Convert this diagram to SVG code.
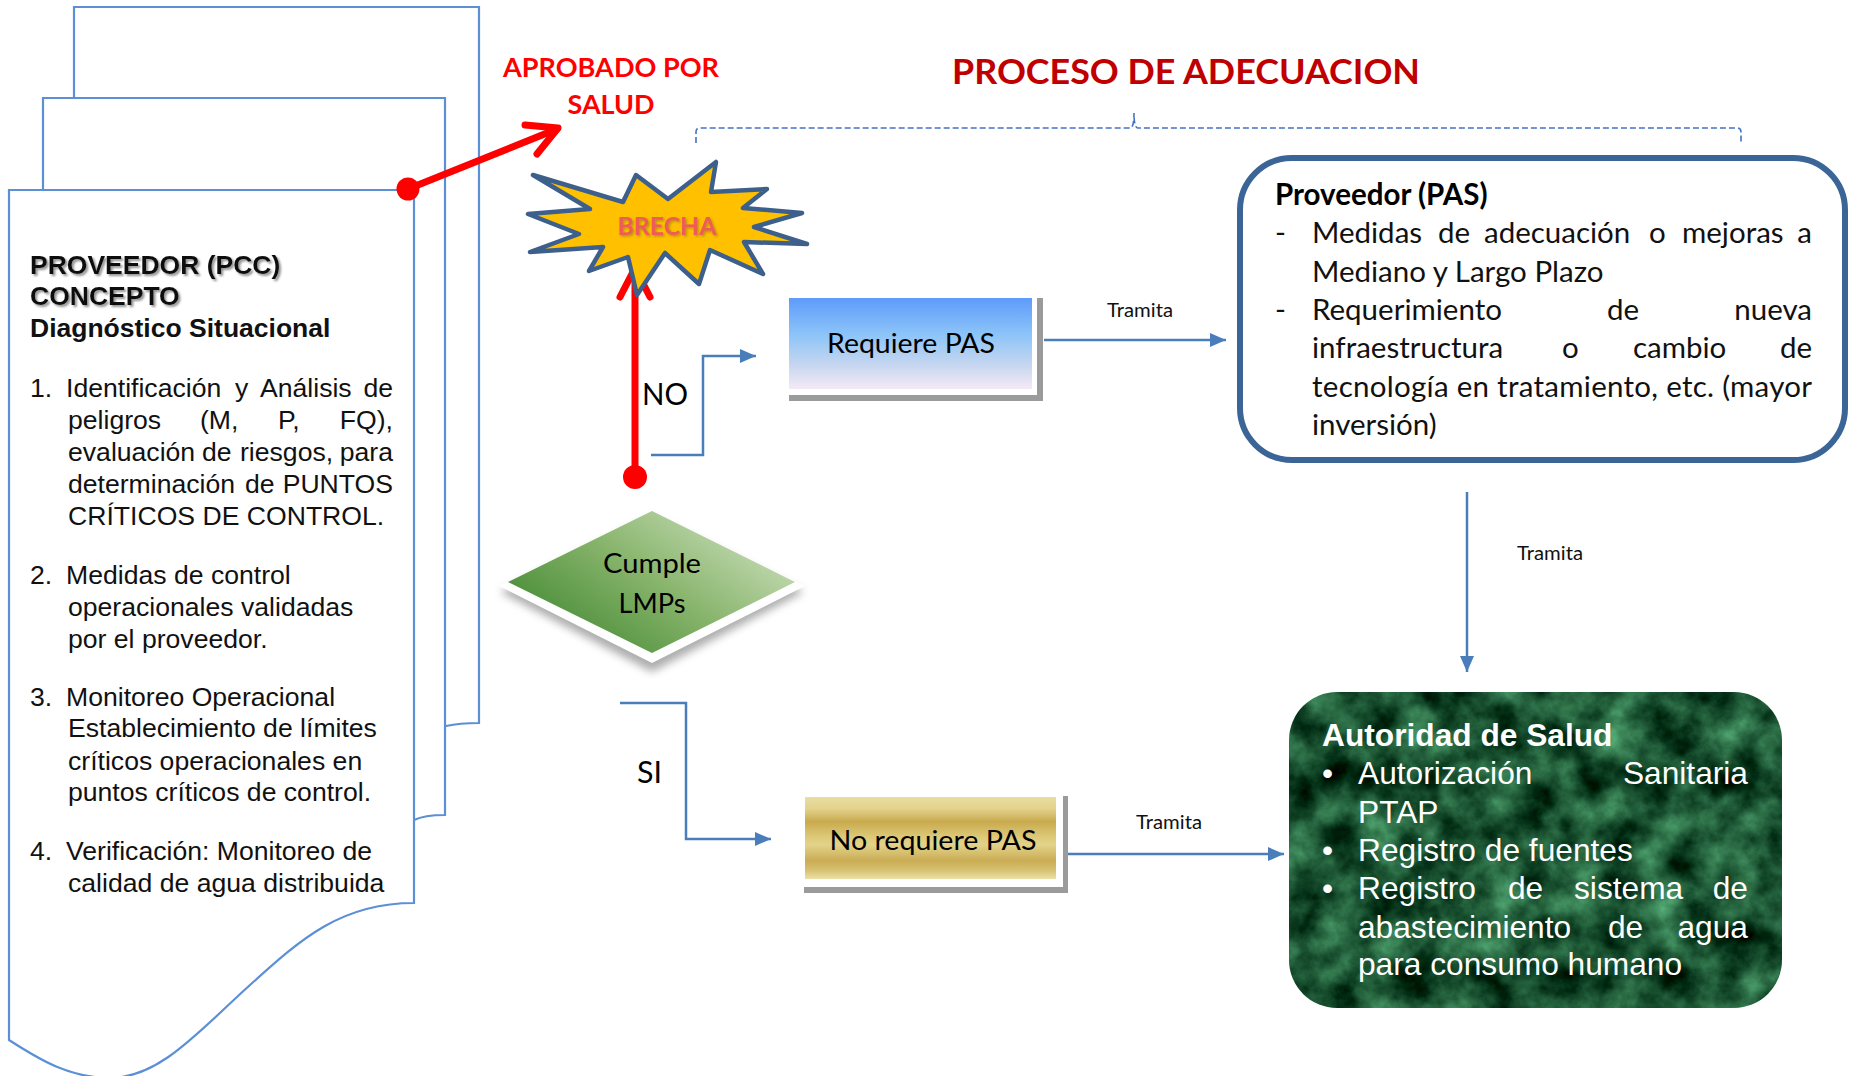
<svg xmlns="http://www.w3.org/2000/svg" width="1856" height="1076" viewBox="0 0 1856 1076">
<style>
.page{fill:#fff;stroke:#5B8FD6;stroke-width:2.2}
.ar{font-family:"Liberation Sans",Arial,sans-serif}
.lt{font-family:Lato,"Liberation Sans",sans-serif}
.lb{font-size:26.6px;fill:#111}
.hb{font-size:26.5px;font-weight:bold;fill:#111}
.pas{font-size:29.5px;fill:#111}
.gw{font-size:31.7px;fill:#fff}
.conn{fill:none;stroke:#4A7EBB;stroke-width:2.5}
.red{fill:none;stroke:#FF0000;stroke-width:7;stroke-linecap:round;stroke-linejoin:round}
.tram{font-size:18.5px;fill:#111}
</style>
<defs>
<marker id="ah" markerUnits="userSpaceOnUse" markerWidth="17" markerHeight="15" refX="16" refY="7" orient="auto">
<path d="M0,0 L16,7 L0,14 z" fill="#4A7EBB"/>
</marker>
<linearGradient id="gBlue" x1="0" y1="0" x2="0" y2="1">
<stop offset="0" stop-color="#5E9BFA"/>
<stop offset="0.4" stop-color="#8CC4F8"/>
<stop offset="0.75" stop-color="#C8D7EF"/>
<stop offset="1" stop-color="#F5EAF7"/>
</linearGradient>
<linearGradient id="gGold" x1="0" y1="0" x2="0" y2="1">
<stop offset="0" stop-color="#E9DEA0"/>
<stop offset="0.14" stop-color="#E3D38C"/>
<stop offset="0.3" stop-color="#C9AA4E"/>
<stop offset="0.48" stop-color="#DDC877"/>
<stop offset="0.58" stop-color="#E2D38A"/>
<stop offset="0.78" stop-color="#CAAC54"/>
<stop offset="0.9" stop-color="#D8C374"/>
<stop offset="1" stop-color="#ECE1A8"/>
</linearGradient>
<linearGradient id="gGreen" x1="0" y1="0.85" x2="1" y2="0.15">
<stop offset="0" stop-color="#3A842C"/>
<stop offset="0.5" stop-color="#86B36A"/>
<stop offset="1" stop-color="#D2E4C4"/>
</linearGradient>
<filter id="blur4" x="-20%" y="-20%" width="140%" height="140%">
<feGaussianBlur stdDeviation="4"/>
</filter>
<filter id="tsh" x="-5%" y="-20%" width="110%" height="150%">
<feDropShadow dx="2" dy="2" stdDeviation="1" flood-color="#777" flood-opacity="0.8"/>
</filter>
<filter id="tsh2" x="-5%" y="-20%" width="110%" height="150%">
<feDropShadow dx="1.5" dy="1.5" stdDeviation="1" flood-color="#8a6a20" flood-opacity="0.6"/>
</filter>
<filter id="marble" x="0" y="0" width="1" height="1" color-interpolation-filters="sRGB">
<feTurbulence type="fractalNoise" baseFrequency="0.025" numOctaves="5" seed="7" result="n"/>
<feColorMatrix in="n" type="matrix" values="0.55 0 0 0 -0.17  0.85 0 0 0 -0.1  0.65 0 0 0 -0.13  0 0 0 0 1" result="c"/>
<feComposite in="c" in2="SourceGraphic" operator="in"/>
</filter>
</defs>

<g id="doc-pages">
<path class="page" d="M74,7 H479 V723 C465,723 455,724 446,726 L300,780 L74,860 Z"/>
<path class="page" d="M43,98 H445 V815 C430,815 420,817 414,820 L200,900 L43,960 Z"/>
<path class="page" d="M9,190 H414 V903 C340,903 300,940 250,985 C200,1030 160,1078 110,1078 C70,1078 40,1060 9,1040 Z"/>
</g>

<g id="doc-text" class="ar">
<text class="hb" x="30" y="274" filter="url(#tsh)">PROVEEDOR (PCC)</text>
<text class="hb" x="30" y="305" filter="url(#tsh)">CONCEPTO</text>
<text class="hb" x="30" y="337">Diagnóstico Situacional</text>
<g class="lb">
<text x="30" y="397">1.</text>
<text x="66" y="397">Identificación</text><text x="235" y="397">y</text><text x="260" y="397">Análisis</text><text x="393" y="397" text-anchor="end">de</text>
<text x="68" y="429">peligros</text><text x="200" y="429">(M,</text><text x="278" y="429">P,</text><text x="393" y="429" text-anchor="end">FQ),</text>
<text x="68" y="461">evaluación</text><text x="202" y="461">de</text><text x="240" y="461">riesgos,</text><text x="393" y="461" text-anchor="end">para</text>
<text x="68" y="493">determinación</text><text x="245" y="493">de</text><text x="393" y="493" text-anchor="end">PUNTOS</text>
<text x="68" y="525">CRÍTICOS DE CONTROL.</text>
<text x="30" y="584">2.</text><text x="66" y="584">Medidas de control</text>
<text x="68" y="616">operacionales validadas</text>
<text x="68" y="648">por el proveedor.</text>
<text x="30" y="706">3.</text><text x="66" y="706">Monitoreo Operacional</text>
<text x="68" y="737">Establecimiento de límites</text>
<text x="68" y="770">críticos operacionales en</text>
<text x="68" y="801">puntos críticos de control.</text>
<text x="30" y="860">4.</text><text x="66" y="860">Verificación: Monitoreo de</text>
<text x="68" y="892">calidad de agua distribuida</text>
</g>
</g>

<g id="labels-top" class="lt">
<text x="611" y="77" text-anchor="middle" font-size="26.5" font-weight="bold" fill="#FF0000" textLength="216" lengthAdjust="spacingAndGlyphs">APROBADO POR</text>
<text x="611" y="114" text-anchor="middle" font-size="26.5" font-weight="bold" fill="#FF0000" textLength="87" lengthAdjust="spacingAndGlyphs">SALUD</text>
<text x="1186" y="84" text-anchor="middle" font-size="35" font-weight="bold" fill="#C00000" textLength="468" lengthAdjust="spacingAndGlyphs">PROCESO DE ADECUACION</text>
</g>

<g id="brace">
<path d="M696,143 V132 Q696,128 700,128 H1130 Q1134,128 1134,113 Q1134,128 1138,128 H1737 Q1741,128 1741,132 V142" fill="none" stroke="#4472C4" stroke-width="1.6" stroke-dasharray="6,3"/>
</g>

<g id="connectors">
<path class="red" d="M408,189 L557,129"/>
<path class="red" d="M525,125 L558,128 L537,154"/>
<circle cx="408" cy="189" r="11.5" fill="#FF0000"/>
<path class="red" d="M635,477 V270"/>
<path class="red" d="M620,297 L635,268 L650,297"/>
<circle cx="635" cy="477" r="12" fill="#FF0000"/>
<path class="conn" d="M651,455 H703 V356 H756" marker-end="url(#ah)"/>
<path class="conn" d="M620,703 H686 V839 H771" marker-end="url(#ah)"/>
<path class="conn" d="M1044,340 H1226" marker-end="url(#ah)"/>
<path class="conn" d="M1059,854 H1284" marker-end="url(#ah)"/>
<path class="conn" d="M1467,492 V672" marker-end="url(#ah)"/>
</g>

<g id="conn-labels" class="lt">
<text x="642" y="405" font-size="30" fill="#000" textLength="46" lengthAdjust="spacingAndGlyphs">NO</text>
<text x="637" y="783" font-size="30" fill="#000" textLength="25" lengthAdjust="spacingAndGlyphs">SI</text>
<text class="tram" x="1140" y="317" text-anchor="middle" textLength="66" lengthAdjust="spacingAndGlyphs">Tramita</text>
<text class="tram" x="1169" y="829" text-anchor="middle" textLength="66" lengthAdjust="spacingAndGlyphs">Tramita</text>
<text class="tram" x="1517" y="560" textLength="66" lengthAdjust="spacingAndGlyphs">Tramita</text>
</g>

<g id="brecha">
<polygon points="533,175 623,202 636,175 668,199 716,162 711,192 767,189 743,208 802,213 754,227 807,244 744,242 763,274 710,250 699,284 665,253 637,295 628,257 589,271 603,247 530,252 579,234 528,214 590,209" fill="#FFC000" stroke="#3D5F8C" stroke-width="4.5" stroke-linejoin="round"/>
<text class="lt" x="667" y="235" text-anchor="middle" font-size="25" font-weight="bold" fill="#EE5B55" filter="url(#tsh2)" textLength="99" lengthAdjust="spacingAndGlyphs">BRECHA</text>
</g>

<g id="requiere-pas">
<rect x="789" y="298" width="254" height="103" fill="#9B9B9B"/>
<rect x="789" y="298" width="248" height="97" fill="#fff"/>
<rect x="789" y="298" width="243" height="91" fill="url(#gBlue)"/>
<text class="lt" x="911" y="353" text-anchor="middle" font-size="27" fill="#000" textLength="168" lengthAdjust="spacingAndGlyphs">Requiere PAS</text>
</g>

<g id="cumple-lmps">
<polygon points="500,592 652,518 804,592 652,672" fill="#777" opacity="0.6" filter="url(#blur4)"/>
<polygon points="499,586 652,511 805,586 652,663" fill="#fff"/>
<polygon points="508,582 652,511 795,582 652,653" fill="url(#gGreen)"/>
<text class="lt" x="652" y="573" text-anchor="middle" font-size="27" fill="#000" textLength="98" lengthAdjust="spacingAndGlyphs">Cumple</text>
<text class="lt" x="652" y="613" text-anchor="middle" font-size="27" fill="#000" textLength="67" lengthAdjust="spacingAndGlyphs">LMPs</text>
</g>

<g id="no-requiere-pas">
<rect x="804" y="796" width="264" height="97" fill="#9B9B9B"/>
<rect x="804" y="796" width="259" height="91" fill="#fff"/>
<rect x="805" y="797" width="251" height="82" fill="url(#gGold)"/>
<text class="lt" x="933" y="850" text-anchor="middle" font-size="27" fill="#000" textLength="207" lengthAdjust="spacingAndGlyphs">No requiere PAS</text>
</g>

<g id="proveedor-pas" class="lt">
<rect x="1240" y="158" width="605" height="302" rx="52" fill="#fff" stroke="#3C6597" stroke-width="6"/>
<text x="1275" y="205" font-size="29.5" font-weight="bold" fill="#000">Proveedor (PAS)</text>
<g class="pas">
<text x="1275" y="243">-</text><text x="1312" y="243">Medidas</text><text x="1438" y="243">de</text><text x="1484" y="243">adecuación</text><text x="1649" y="243">o</text><text x="1682" y="243">mejoras</text><text x="1812" y="243" text-anchor="end">a</text>
<text x="1312" y="282">Mediano y Largo Plazo</text>
<text x="1275" y="320">-</text><text x="1312" y="320">Requerimiento</text><text x="1607" y="320">de</text><text x="1812" y="320" text-anchor="end">nueva</text>
<text x="1312" y="358">infraestructura</text><text x="1562" y="358">o</text><text x="1633" y="358">cambio</text><text x="1812" y="358" text-anchor="end">de</text>
<text x="1312" y="397" textLength="500" lengthAdjust="spacing">tecnología en tratamiento, etc. (mayor</text>
<text x="1312" y="435">inversión)</text>
</g>
</g>

<g id="autoridad-salud">
<rect x="1289" y="692" width="493" height="316" rx="48" fill="#000" filter="url(#marble)"/>
<g class="ar">
<text x="1322" y="746" font-size="31.7" font-weight="bold" fill="#fff">Autoridad de Salud</text>
<g class="gw">
<text x="1322" y="784">•</text><text x="1358" y="784">Autorización</text><text x="1748" y="784" text-anchor="end">Sanitaria</text>
<text x="1358" y="823">PTAP</text>
<text x="1322" y="861">•</text><text x="1358" y="861">Registro de fuentes</text>
<text x="1322" y="899">•</text><text x="1358" y="899">Registro</text><text x="1508" y="899">de</text><text x="1574" y="899">sistema</text><text x="1748" y="899" text-anchor="end">de</text>
<text x="1358" y="938">abastecimiento</text><text x="1608" y="938">de</text><text x="1748" y="938" text-anchor="end">agua</text>
<text x="1358" y="975">para consumo humano</text>
</g>
</g>
</g>
</svg>
